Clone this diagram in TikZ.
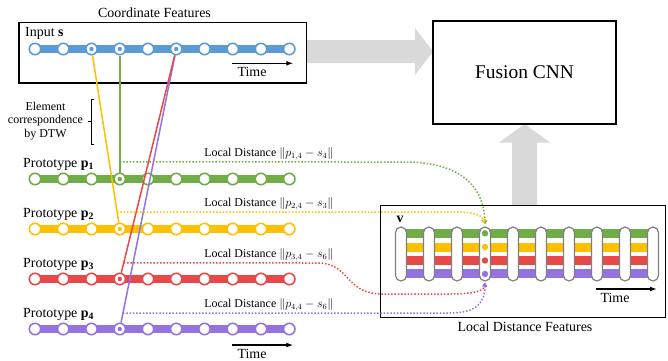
\documentclass[tikz,border=0pt]{standalone}
\usepackage{fontspec}
\setmainfont{Liberation Serif}
\usetikzlibrary{arrows.meta,calc,backgrounds}

\definecolor{cblue}{HTML}{5B9BD5}
\definecolor{cgreen}{HTML}{70AD47}
\definecolor{cyellow}{HTML}{FFC000}
\definecolor{cred}{HTML}{E84848}
\definecolor{cpurple}{HTML}{9473E0}
\definecolor{arrowgray}{HTML}{D9D9D9}
\definecolor{pillgray}{HTML}{7F7F7F}

\tikzset{
  title/.style={font=\fontsize{14}{16}\selectfont, inner sep=0pt},
  small/.style={font=\fontsize{12}{13.5}\selectfont, inner sep=0pt},
  seqdot/.style={circle, fill=white, line width=1.6bp, minimum size=11.4bp, inner sep=0pt},
  seqbar/.style={line width=8bp},
  corr/.style={line width=1.5bp},
  ldist/.style={line width=1.5bp, dash pattern=on 1.5bp off 1.8bp,
    -{Triangle[length=4bp,width=4.5bp]}},
  frame/.style={draw, line width=1.3bp, inner sep=0pt},
  pill/.style={draw=pillgray, fill=white, line width=1.2bp, rounded corners=5.5bp,
    minimum width=11bp, minimum height=54bp, inner sep=0pt},
  timearrow/.style={line width=1.5bp, -{Latex[length=7bp,width=5bp]}},
  bigarrow/.style={fill=arrowgray},
}

\begin{document}
\begin{tikzpicture}[x=1bp,y=-1bp]
\useasboundingbox (0,0) rectangle (668,360);

% ---- big gray flow arrows
\fill[bigarrow] (306,40) -- (415,40) -- (415,28) -- (433,51.5) -- (415,75)
  -- (415,63) -- (306,63) -- cycle;
\fill[bigarrow] (512,205) -- (512,142.5) -- (499,142.5) -- (524.5,124)
  -- (550,142.5) -- (537,142.5) -- (537,205) -- cycle;

% ---- frames
\node[frame, anchor=north west, minimum width=287.7bp, minimum height=60.6bp]
  (inbox) at (18.3,21.7) {};
\node[title] (coordlab) at (154.5,12.8) {Coordinate Features};
\node[frame, minimum width=183bp, minimum height=103bp,
  font=\fontsize{19.5}{22}\selectfont] (fusion) at (524.5,72.5) {Fusion CNN};
\node[frame, anchor=north west, minimum width=285bp, minimum height=111.7bp]
  (ldf) at (380,205) {};
\node[title] (ldflab) at (525,326.3) {Local Distance Features};

% ---- input sequence s
\node[title, anchor=base west] (inlab) at (25,36.7) {Input \textbf{s}};
\foreach \i in {1,...,10}
  \node[seqdot, draw=cblue] (s\i) at ({35+28.25*(\i-1)},49) {};
\begin{scope}[on background layer]
  \draw[seqbar, cblue] (s1.center) -- (s10.center);
\end{scope}
\foreach \i in {3,4,6}
  \fill[cblue] (s\i) circle (2.2bp);

% ---- prototype sequences
\foreach \r/\c/\y in {1/cgreen/179, 2/cyellow/229, 3/cred/279, 4/cpurple/329} {
  \node[title, anchor=base west] (plab\r) at (23,\y-11.5)
    {Prototype \textbf{p}\textsubscript{\textbf{\r}}};
  \foreach \i in {1,...,10}
    \node[seqdot, draw=\c] (p\r-\i) at ({35+28.25*(\i-1)},\y) {};
  \begin{scope}[on background layer]
    \draw[seqbar, \c] (p\r-1.center) -- (p\r-10.center);
  \end{scope}
  \fill[\c] (p\r-4) circle (2.2bp);
}

% ---- DTW element correspondences
\draw[corr, cpurple] (s6) -- (p4-4);
\draw[corr, cred] (s6) -- (p3-4);
\draw[corr, cyellow] (s3) -- (p2-4);
\draw[corr, cgreen] (s4) -- (p1-4);

\node[small, align=center] (dtwlab) at (45.5,121)
  {Element\\correspondence\\by DTW};
\draw[line width=1bp] (93.5,99.3) -- (91,99.3) -- (91,144) -- (93.5,144)
  (91,121.7) -- (88,121.7);

% ---- time arrows
\coordinate (ta1) at (231.7,63.3);  \coordinate (tb1) at (293.3,63.3);
\draw[timearrow] (ta1) -- (tb1);
\node[title] (time1) at (252,72.2) {Time};
\coordinate (ta2) at (231.7,345);   \coordinate (tb2) at (293.3,345);
\draw[timearrow] (ta2) -- (tb2);
\node[title] (time2) at (252,353.6) {Time};

% ---- local distance feature matrix v
\fill[cgreen]  (401,229.3) rectangle (653,237.8);
\fill[cyellow] (401,242.7) rectangle (653,251.5);
\fill[cred]    (401,256)   rectangle (653,264.8);
\fill[cpurple] (401,269.3) rectangle (653,278.3);
\foreach \i in {1,...,10}
  \node[pill] (c\i) at ({401+28*(\i-1)},254) {};
\fill[cgreen]  (485,233.3) circle (3.2bp);
\fill[cyellow] (485,247)   circle (3.2bp);
\fill[cred]    (485,260.5) circle (3.2bp);
\fill[cpurple] (485,274)   circle (3.2bp);
\node[title] (vlab) at (400,219) {\textbf{v}};
\coordinate (ta3) at (596,289);  \coordinate (tb3) at (657,289);
\draw[timearrow] (ta3) -- (tb3);
\node[title] (time3) at (615,298) {Time};

% ---- local distances carried into v
\coordinate (d1) at ($(s4)!0.869!(p1-4)$);
\coordinate (d2) at ($(s3)!0.9056!(p2-4)$);
\coordinate (d3) at ($(s6)!0.930!(p3-4)$);
\coordinate (d4) at ($(s6)!0.943!(p4-4)$);
\coordinate (vin1) at (485,224.5);
\coordinate (vin2) at (484.5,223.5);
\coordinate (vout) at (485,282.5);

\draw[ldist, cgreen] (d1) -- (405,162) .. controls (462,162) and (484,188) .. (vin1);
\draw[ldist, cyellow] (d2) -- (455,212) .. controls (474,212) and (482,215) .. (vin2);
\draw[ldist, cred] (d3) -- (318,263) .. controls (350,263) and (345,294) .. (382,294)
  -- (448,294) .. controls (474,294) and (484,291) .. (vout);
\draw[ldist, cpurple] (d4) -- (450,313) .. controls (477,313) and (485,302) .. (vout);

\node[small, anchor=base east] (ld1) at (333.5,156.5)
  {Local Distance $\|p_{1,4}-s_4\|$};
\node[small, anchor=base east] (ld2) at (333.5,206.5)
  {Local Distance $\|p_{2,4}-s_3\|$};
\node[small, anchor=base east] (ld3) at (333.5,257.5)
  {Local Distance $\|p_{3,4}-s_6\|$};
\node[small, anchor=base east] (ld4) at (333.5,307.5)
  {Local Distance $\|p_{4,4}-s_6\|$};
\end{tikzpicture}
\end{document}
